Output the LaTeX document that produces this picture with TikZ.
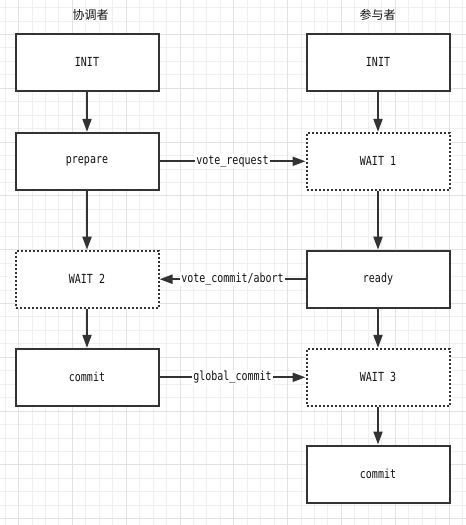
\documentclass[tikz,border=0pt]{standalone}
\usepackage{fontspec}
\newfontfamily\cjkfont{Noto Sans CJK SC}
\newfontfamily\monofont[FakeStretch=0.8]{DejaVu Sans Mono}
\usetikzlibrary{arrows.meta}
\definecolor{linec}{HTML}{333333}
\definecolor{textc}{HTML}{111111}
\definecolor{gridminor}{HTML}{F0F0F0}
\definecolor{gridmajor}{HTML}{E2E2E2}
\tikzset{
  stbox/.style={draw=linec, line width=2pt, fill=white, minimum width=143pt, minimum height=57pt, inner sep=0pt, text=textc, font=\monofont\fontsize{12.5}{14}\selectfont},
  dotbox/.style={stbox, dash pattern=on 2pt off 2pt},
  arr/.style={draw=linec, line width=2pt, -{Triangle[length=13pt,width=9pt]}},
  lbl/.style={fill=white, inner sep=1pt, text=textc, font=\monofont\fontsize{12.5}{14}\selectfont},
  ttl/.style={text=textc, font=\cjkfont\fontsize{12}{14}\selectfont, inner sep=0pt}
}
\begin{document}
\begin{tikzpicture}[x=1pt,y=-1pt]
\useasboundingbox (0,0) rectangle (466,525);
\fill[white] (0,0) rectangle (466,525);
% grid
\foreach \i in {-1,...,34} {
  \pgfmathsetmacro\gx{18.6+13.45*\i}
  \draw[gridminor, line width=1pt] (\gx,0) -- (\gx,525);
}
\foreach \i in {-3,...,37} {
  \pgfmathsetmacro\gy{34.5+13.45*\i}
  \draw[gridminor, line width=1pt] (0,\gy) -- (466,\gy);
}
\foreach \j in {0,...,8} {
  \pgfmathsetmacro\gx{18.6+53.8*\j}
  \draw[gridmajor, line width=1pt] (\gx,0) -- (\gx,525);
}
\foreach \j in {-1,...,9} {
  \pgfmathsetmacro\gy{34.5+53.8*\j}
  \draw[gridmajor, line width=1pt] (0,\gy) -- (466,\gy);
}
% titles
\node[ttl] (t1) at (90.5,15) {协调者};
\node[ttl] (t2) at (377.5,15) {参与者};
% left column
\node[stbox] (linit) at (87,62.2) {INIT};
\node[stbox] (lprep) at (87,161.3) {prepare};
\node[dotbox] (wait2) at (87,279.2) {WAIT 2};
\node[stbox] (lcommit) at (87,377.3) {commit};
% right column
\node[stbox] (rinit) at (378,62.2) {INIT};
\node[dotbox] (wait1) at (378,161.3) {WAIT 1};
\node[stbox] (ready) at (378,279.2) {ready};
\node[dotbox] (wait3) at (378,377.3) {WAIT 3};
\node[stbox] (rcommit) at (378,474) {commit};
% arrows
\draw[arr] (linit) -- (lprep);
\draw[arr] (lprep) -- (wait2);
\draw[arr] (wait2) -- (lcommit);
\draw[arr] (rinit) -- (wait1);
\draw[arr] (wait1) -- (ready);
\draw[arr] (ready) -- (wait3);
\draw[arr] (wait3) -- (rcommit);
\draw[arr] (lprep) -- node[lbl] (l1) {vote\_request} (wait1);
\draw[arr] (ready) -- node[lbl] (l2) {vote\_commit/abort} (wait2);
\draw[arr] (lcommit) -- node[lbl] (l3) {global\_commit} (wait3);
\end{tikzpicture}
\end{document}
